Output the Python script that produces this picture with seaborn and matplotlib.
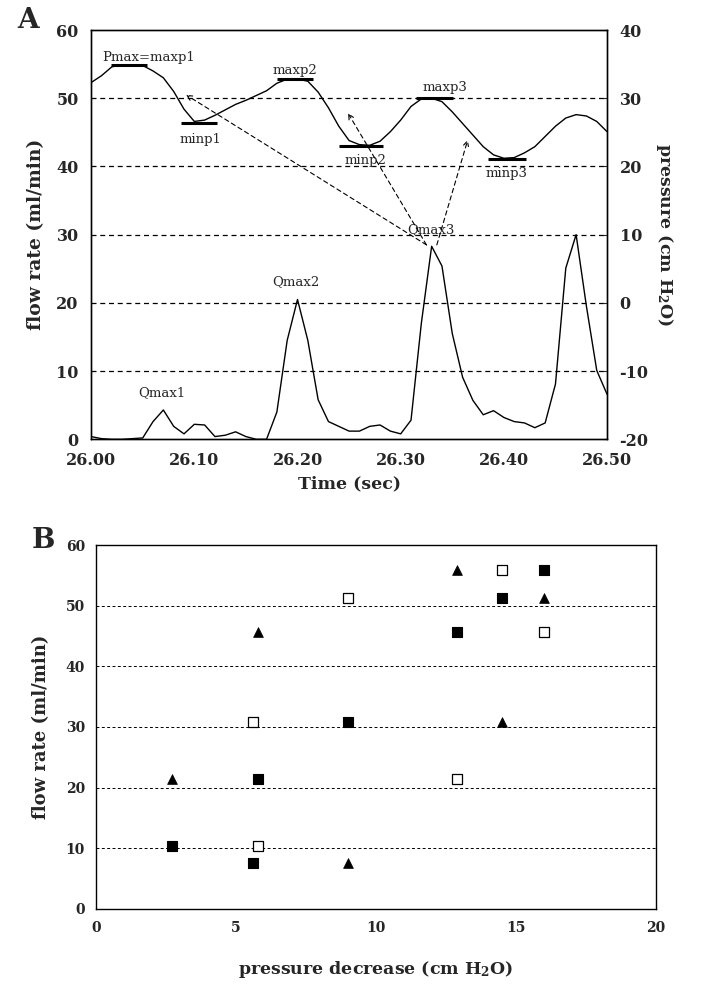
import matplotlib
matplotlib.use("Agg")
import matplotlib.pyplot as plt
import seaborn as sns

# ---- panel A: flow rate and pressure over time ----
time_s = [26.00, 26.01, 26.02, 26.03, 26.04, 26.05, 26.06, 26.07, 26.08, 26.09,
          26.10, 26.11, 26.12, 26.13, 26.14, 26.15, 26.16, 26.17, 26.18, 26.19,
          26.20, 26.21, 26.22, 26.23, 26.24, 26.25, 26.26, 26.27, 26.28, 26.29,
          26.30, 26.31, 26.32, 26.33, 26.34, 26.35, 26.36, 26.37, 26.38, 26.39,
          26.40, 26.41, 26.42, 26.43, 26.44, 26.45, 26.46, 26.47, 26.48, 26.49,
          26.50]
flow_rate = [0.4, 0.1, 0.0, 0.0, 0.1, 0.2, 2.6, 4.3, 1.9, 0.8,
             2.2, 2.1, 0.4, 0.6, 1.1, 0.4, 0.0, 0.0, 4.0, 14.5,
             20.5, 14.5, 5.8, 2.6, 1.9, 1.2, 1.2, 1.9, 2.1, 1.2,
             0.8, 2.8, 17.0, 28.3, 25.4, 15.5, 9.1, 5.7, 3.6, 4.2,
             3.2, 2.6, 2.4, 1.7, 2.4, 8.1, 25.1, 30.0, 19.5, 10.1,
             6.6]
pressure = [32.3, 33.3, 34.6, 34.9, 34.9, 34.8, 34.0, 33.0, 31.0, 28.4,
            26.6, 26.8, 27.5, 28.3, 29.1, 29.7, 30.4, 31.1, 32.2, 32.8,
            32.8, 32.5, 30.9, 28.6, 25.9, 23.8, 23.2, 23.1, 23.7, 25.1,
            26.8, 28.8, 29.9, 30.0, 29.5, 28.0, 26.3, 24.6, 22.9, 21.7,
            21.2, 21.3, 22.0, 22.9, 24.4, 25.9, 27.1, 27.6, 27.4, 26.6,
            25.1]

peak_names = ["Pmax=maxp1", "minp1", "maxp2", "minp2", "maxp3", "minp3"]
peak_start = [26.019, 26.087, 26.180, 26.240, 26.315, 26.385]
peak_end = [26.054, 26.122, 26.215, 26.283, 26.351, 26.421]
peak_level = [34.9, 26.3, 32.8, 23.0, 30.1, 21.1]
qmax_names = ["Qmax1", "Qmax2", "Qmax3"]

# ---- panel B: flow rate vs pressure decrease ----
drop_filled = [2.7, 5.8, 5.6, 9.0, 12.9, 14.5, 16.0]
flow_filled = [10.3, 21.5, 7.6, 30.9, 45.7, 51.2, 55.8]
drop_open = [5.8, 12.9, 5.6, 9.0, 14.5, 16.0]
flow_open = [10.3, 21.5, 30.9, 51.2, 55.8, 45.7]
drop_tri = [2.7, 9.0, 5.8, 12.9, 16.0, 14.5]
flow_tri = [21.5, 7.6, 45.7, 55.8, 51.2, 30.9]

# label layout (time, right-axis units)
peak_text_pos = [(26.0555, 36.0), (26.1056, 23.9), (26.197, 34.1),
                 (26.266, 20.9), (26.343, 31.6), (26.4026, 19.0)]
qmax_text_pos = [(26.069, -13.1), (26.198, 3.1), (26.329, 10.7)]
arrows = [((26.325, 8.5), (26.092, 30.5)),
          ((26.325, 8.5), (26.249, 27.8)),
          ((26.335, 8.5), (26.365, 23.9))]

sns.set_style("white")
plt.rcParams['font.family'] = ['DejaVu Serif']
plt.rcParams['mathtext.fontset'] = 'dejavuserif'
plt.rcParams['axes.linewidth'] = 1.0
plt.rcParams['axes.unicode_minus'] = False

fig = plt.figure(figsize=(7.01, 9.85), dpi=100)
ax = fig.add_axes([0.13, 0.554, 0.736, 0.4155])
ax2 = ax.twinx()

dash_a = (0, (4, 3))
for v in [10, 20, 30, 40, 50]:
    ax.axhline(v, color='black', lw=0.9, ls=dash_a, zorder=1)

sns.lineplot(x=time_s, y=flow_rate, ax=ax, color='black', lw=1.0)
sns.lineplot(x=time_s, y=pressure, ax=ax2, color='black', lw=1.0)

ax.set_xlim(26.0, 26.5)
ax.set_ylim(0, 60)
ax2.set_ylim(-20, 40)
ax.set_xticks([26.0, 26.1, 26.2, 26.3, 26.4, 26.5])
ax.set_xticklabels(["26.00", "26.10", "26.20", "26.30", "26.40", "26.50"])
ax.set_yticks([0, 10, 20, 30, 40, 50, 60])
ax2.set_yticks([-20, -10, 0, 10, 20, 30, 40])
ax.tick_params(axis='y', length=0, pad=9, labelsize=11.5)
ax.tick_params(axis='x', direction='in', length=8, width=1, pad=9, labelsize=11.5)
ax2.tick_params(axis='y', direction='in', length=3, pad=9, labelsize=11.5)
for lab in ax.get_xticklabels() + ax.get_yticklabels() + ax2.get_yticklabels():
    lab.set_fontweight('bold')
for sp in ax2.spines.values():
    sp.set_visible(True)
    sp.set_color('black')

ax.set_xlabel("Time (sec)", fontsize=12.5, fontweight='bold', labelpad=5)
ax.set_ylabel("flow rate (ml/min)", fontsize=13.5, fontweight='bold', labelpad=8)
ax2.set_ylabel("pressure (cm H$_\\mathbf{2}$O)", fontsize=12.5, fontweight='bold',
               rotation=270, labelpad=19)

for name, x0, x1, lvl, (tx, ty) in zip(peak_names, peak_start, peak_end,
                                        peak_level, peak_text_pos):
    ax2.hlines(lvl, x0, x1, color='black', lw=2.2)
    ax2.text(tx, ty, name, ha='center', va='center', fontsize=9.5)
for name, (tx, ty) in zip(qmax_names, qmax_text_pos):
    ax2.text(tx, ty, name, ha='center', va='center', fontsize=9.5)
for tail, head in arrows:
    ax2.annotate("", xy=head, xytext=tail,
                 arrowprops=dict(arrowstyle='->', color='black', lw=0.8,
                                 ls=(0, (4, 3)), shrinkA=0, shrinkB=0,
                                 mutation_scale=9))

fig.text(28 / 701, 1 - 21 / 985, "A", fontsize=20, fontweight='bold',
         ha='center', va='center')

# ---- panel B ----
axb = fig.add_axes([0.137, 0.0772, 0.799, 0.3695])
dash_b = (0, (3, 2.5))
for v in [10, 20, 30, 40, 50]:
    axb.axhline(v, color='black', lw=0.7, ls=dash_b, zorder=1)

sns.scatterplot(x=drop_filled, y=flow_filled, ax=axb, marker='s', s=48,
                color='black', edgecolor='black', linewidth=0.8, zorder=3)
sns.scatterplot(x=drop_open, y=flow_open, ax=axb, marker='s', s=48,
                color='white', edgecolor='black', linewidth=0.9, zorder=3)
sns.scatterplot(x=drop_tri, y=flow_tri, ax=axb, marker='^', s=50,
                color='black', edgecolor='black', linewidth=0.5, zorder=3)

axb.set_xlim(0, 20)
axb.set_ylim(0, 60)
axb.set_xticks([0, 5, 10, 15, 20])
axb.set_yticks([0, 10, 20, 30, 40, 50, 60])
axb.tick_params(axis='y', length=0, pad=8, labelsize=10)
axb.tick_params(axis='x', direction='in', length=8, width=1, pad=9, labelsize=10)
for lab in axb.get_xticklabels() + axb.get_yticklabels():
    lab.set_fontweight('bold')
for sp in axb.spines.values():
    sp.set_visible(True)
    sp.set_color('black')
axb.set_xlabel("pressure decrease (cm H$_\\mathbf{2}$O)", fontsize=12.5,
               fontweight='bold', labelpad=17)
axb.set_ylabel("flow rate (ml/min)", fontsize=13, fontweight='bold', labelpad=11)

fig.text(43 / 701, 1 - 541 / 985, "B", fontsize=20, fontweight='bold',
         ha='center', va='center')

fig.savefig("out.png", dpi=100)
